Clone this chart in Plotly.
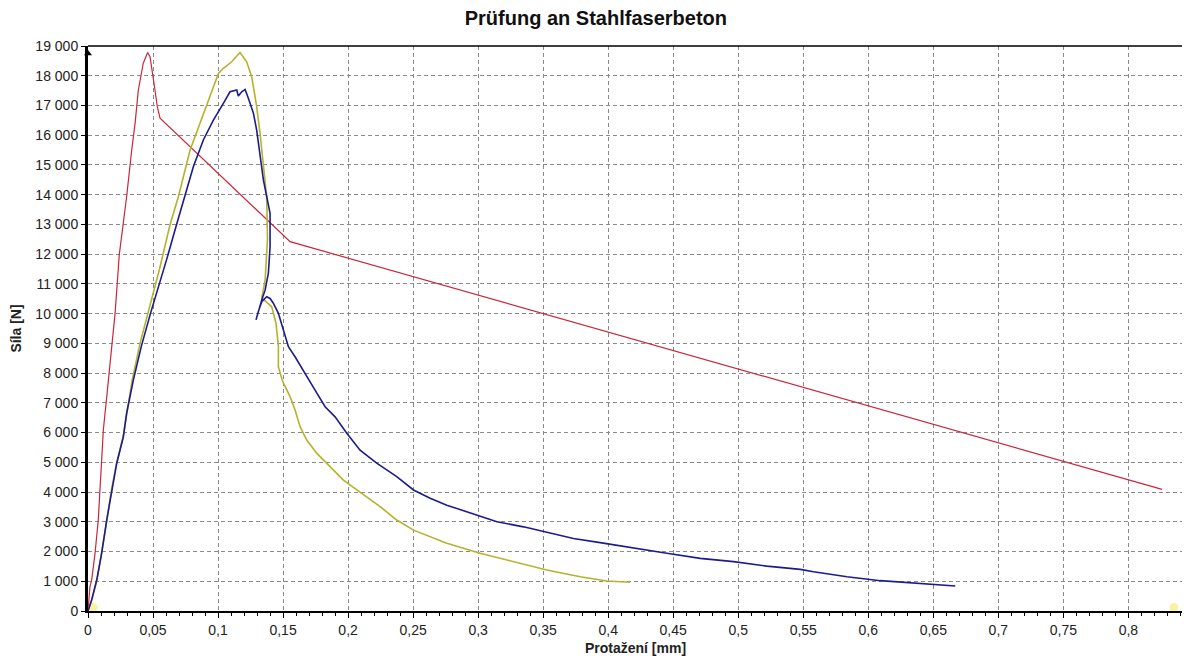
import plotly.graph_objects as go

# Red specimen
red_x = [0, 0.0015, 0.0028, 0.0054, 0.0079, 0.0105, 0.0118, 0.0144, 0.0156, 0.0208, 0.0241,
         0.0297, 0.0336, 0.0362, 0.0387, 0.0425, 0.0451, 0.0459, 0.0477, 0.049, 0.0515, 0.0533,
         0.0554, 0.1554, 0.8259]
red_y = [0, 820, 1040, 1940, 3060, 4970, 6090, 7200, 7770, 10000, 12000,
         13930, 15500, 16400, 17520, 18420, 18700, 18780, 18640, 18190, 17520, 16960,
         16570, 12420, 4090]

# Blue specimen
blue_x = [0, 0.0028, 0.0067, 0.0105, 0.0144, 0.0182, 0.0221, 0.0272, 0.0297, 0.0349, 0.041,
          0.048, 0.055, 0.061, 0.0669, 0.0746, 0.081, 0.0887, 0.0964, 0.1041, 0.1092, 0.1144,
          0.1156, 0.1182, 0.1208, 0.1233, 0.1272, 0.1297, 0.1323, 0.1349, 0.14, 0.14, 0.1387,
          0.1362, 0.1336, 0.131, 0.1292, 0.131, 0.1336, 0.1374, 0.14, 0.1425, 0.1464, 0.1503,
          0.1541, 0.1592, 0.1656, 0.1746, 0.1823, 0.19, 0.199, 0.2092, 0.222, 0.2374, 0.2503,
          0.2631, 0.2759, 0.2938, 0.3144, 0.3349, 0.3503, 0.3733, 0.3938, 0.4195, 0.4451,
          0.4708, 0.4964, 0.522, 0.5477, 0.5579, 0.5836, 0.6092, 0.6349, 0.6669]
blue_y = [0, 370, 1040, 1940, 3060, 4070, 4970, 5860, 6650, 7770, 8900,
          10000, 11000, 11900, 12810, 13930, 14940, 15840, 16510, 17070, 17460, 17520,
          17320, 17460, 17540, 17240, 16740, 16170, 15390, 14490, 13370, 12250, 11360,
          10790, 10460, 10010, 9790, 10070, 10400, 10570, 10510, 10350, 10010, 9450,
          8890, 8550, 8100, 7430, 6870, 6530, 5980, 5410, 4970, 4520, 4070,
          3790, 3560, 3290, 3000, 2830, 2670, 2440, 2300, 2110, 1940,
          1770, 1660, 1510, 1400, 1320, 1150, 1020, 930, 840]

# Yellow specimen
yellow_x = [0, 0.003, 0.007, 0.0105, 0.0145, 0.018, 0.022, 0.027, 0.0297, 0.034, 0.04,
            0.047, 0.055, 0.063, 0.0695, 0.0785, 0.0862, 0.0938, 0.1003, 0.1041, 0.1105,
            0.1169, 0.122, 0.1259, 0.1297, 0.1323, 0.1349, 0.1374, 0.138, 0.1362, 0.1336,
            0.1362, 0.1413, 0.1446, 0.1464, 0.1464, 0.149, 0.1503, 0.1554, 0.1592, 0.1631,
            0.1682, 0.176, 0.1836, 0.1913, 0.1964, 0.2246, 0.2374, 0.2503, 0.2759, 0.3015,
            0.3272, 0.3528, 0.3785, 0.399, 0.4169]
yellow_y = [0, 400, 1050, 1950, 3060, 4070, 4970, 5860, 6650, 7770, 9000,
            10200, 11500, 12980, 13930, 15500, 16400, 17290, 18080, 18250, 18470,
            18780, 18470, 17970, 16960, 16060, 15050, 13930, 12500, 11130, 10510,
            10430, 10230, 9670, 8890, 8210, 7820, 7660, 7210, 6760, 6200,
            5750, 5300, 4970, 4630, 4400, 3510, 3060, 2720, 2280, 1940,
            1660, 1380, 1150, 1010, 965]

# cursor markers (yellow blobs near the axis ends)
cursor_x = [0.004, 0.835]
cursor_y = [120, 120]

x_ticks = [0, 0.05, 0.1, 0.15, 0.2, 0.25, 0.3, 0.35, 0.4, 0.45, 0.5, 0.55, 0.6, 0.65, 0.7, 0.75, 0.8]
y_ticks = list(range(0, 19001, 1000))

title = "Prüfung an Stahlfaserbeton"
x_title = "Protažení [mm]"
y_title = "Síla [N]"

fig = go.Figure()
fig.add_trace(go.Scatter(x=cursor_x, y=cursor_y, mode="markers",
                         marker=dict(symbol="circle", size=9, color="#f4f08a", opacity=0.8),
                         showlegend=False, hoverinfo="skip"))
fig.add_trace(go.Scatter(x=red_x, y=red_y, mode="lines", line=dict(color="#c8283a", width=1.2),
                         showlegend=False))
fig.add_trace(go.Scatter(x=yellow_x, y=yellow_y, mode="lines", line=dict(color="#b5b22c", width=1.6),
                         showlegend=False))
fig.add_trace(go.Scatter(x=blue_x, y=blue_y, mode="lines", line=dict(color="#1c1c8e", width=1.6),
                         showlegend=False))
# axis arrowhead
fig.add_trace(go.Scatter(x=[0], y=[18750], mode="markers",
                         marker=dict(symbol="triangle-up", size=7, color="black"),
                         cliponaxis=False, showlegend=False, hoverinfo="skip"))

fig.update_layout(
    width=1190, height=661,
    margin=dict(l=80, r=15, t=38, b=58),
    paper_bgcolor="white", plot_bgcolor="white",
    separators=", ",
    font=dict(family="Liberation Sans, Arial, sans-serif", size=14, color="#222222"),
    title=dict(text="<b>" + title + "</b>", x=0.494, xanchor="center", y=0.985, yanchor="middle",
               font=dict(size=20, color="#111111")),
    showlegend=False,
)
fig.update_xaxes(
    range=[0, 0.842], tickvals=x_ticks, tickformat="", showgrid=True, automargin=False,
    gridcolor="#8a8a8a", griddash="4px,3px", gridwidth=1,
    showline=True, linecolor="black", linewidth=2, mirror=False,
    ticks="outside", ticklen=5, tickcolor="black",
    minor=dict(dtick=0.01, ticks="outside", ticklen=3, tickcolor="black", showgrid=False),
    zeroline=False, tickfont=dict(size=14),
    title=dict(text="<b>" + x_title + "</b>", standoff=6, font=dict(size=14)),
)
fig.update_yaxes(
    range=[0, 19000], tickvals=y_ticks, tickformat=",d", showgrid=True, automargin=False,
    gridcolor="#8a8a8a", griddash="4px,3px", gridwidth=1,
    showline=True, linecolor="black", linewidth=3, mirror=False,
    ticks="outside", ticklen=4, tickcolor="black",
    zeroline=False, tickfont=dict(size=14),
    title=dict(text="<b>" + y_title + "</b>", standoff=12, font=dict(size=14)),
)
# thin frame on top and right
fig.add_shape(type="line", xref="paper", yref="paper", x0=0, x1=1, y0=1, y1=1,
              line=dict(color="black", width=1.5))
fig.add_shape(type="line", xref="paper", yref="paper", x0=1, x1=1, y0=0, y1=1,
              line=dict(color="#555555", width=1))

fig.write_html("out.html")
